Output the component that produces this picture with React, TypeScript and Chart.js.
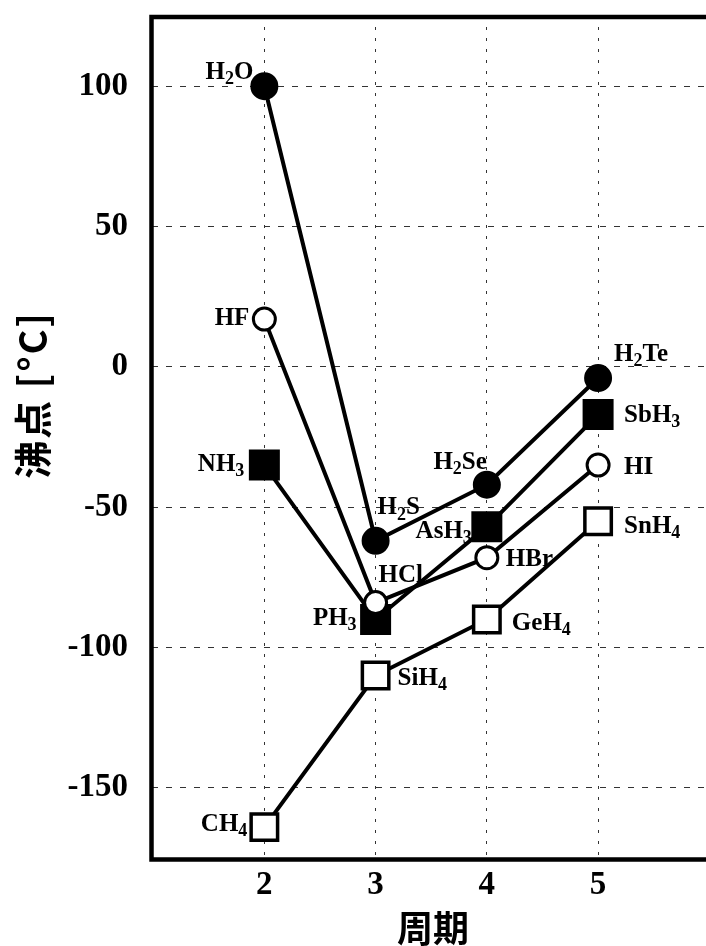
import React, { useEffect, useRef } from 'react';
import { Chart, registerables } from 'chart.js';

Chart.register(...registerables);

// ---- data ----
const PERIODS = [2, 3, 4, 5];
const X_TICKS = [2, 3, 4, 5];
const Y_TICKS = [-150, -100, -50, 0, 50, 100];

const GROUP17_NAMES = ['HF', 'HCl', 'HBr', 'HI'];
const GROUP17_BP = [17, -84, -68, -35];
const GROUP16_NAMES = ['H2O', 'H2S', 'H2Se', 'H2Te'];
const GROUP16_BP = [100, -62, -42, -4];
const GROUP15_NAMES = ['NH3', 'PH3', 'AsH3', 'SbH3'];
const GROUP15_BP = [-35, -90, -57, -17];
const GROUP14_NAMES = ['CH4', 'SiH4', 'GeH4', 'SnH4'];
const GROUP14_BP = [-164, -110, -90, -55];

const Y_TITLE = '沸点 [°C]';
const X_TITLE = '周期';

// ---- styles (label placement relative to marker) ----
type LabelPos = { align: 'left' | 'right'; dx: number; dy: number };
const POS17: LabelPos[] = [
  { align: 'right', dx: -15, dy: -1 },
  { align: 'left', dx: 3, dy: -27 },
  { align: 'left', dx: 19, dy: 2 },
  { align: 'left', dx: 26, dy: 2 },
];
const POS16: LabelPos[] = [
  { align: 'right', dx: -11, dy: -14 },
  { align: 'left', dx: 2, dy: -33 },
  { align: 'right', dx: 0, dy: -22 },
  { align: 'left', dx: 16, dy: -24 },
];
const POS15: LabelPos[] = [
  { align: 'right', dx: -20, dy: -1 },
  { align: 'right', dx: -19, dy: -1 },
  { align: 'right', dx: -15, dy: 5 },
  { align: 'left', dx: 26, dy: 1 },
];
const POS14: LabelPos[] = [
  { align: 'right', dx: -17, dy: -3 },
  { align: 'left', dx: 22, dy: 3 },
  { align: 'left', dx: 25, dy: 4 },
  { align: 'left', dx: 26, dy: 5 },
];

const SERIF = '"Liberation Serif", "Times New Roman", serif';
const CJK = '"Noto Sans CJK JP", "Noto Sans CJK SC", sans-serif';

type Group = {
  names: string[];
  values: number[];
  shape: 'circle' | 'rect';
  filled: boolean;
  radius: number;
  border: number;
  pos: LabelPos[];
};

// top-most first
const GROUPS: Group[] = [
  { names: GROUP17_NAMES, values: GROUP17_BP, shape: 'circle', filled: false, radius: 11, border: 3, pos: POS17 },
  { names: GROUP16_NAMES, values: GROUP16_BP, shape: 'circle', filled: true, radius: 13, border: 2, pos: POS16 },
  { names: GROUP15_NAMES, values: GROUP15_BP, shape: 'rect', filled: true, radius: 20.5, border: 2, pos: POS15 },
  { names: GROUP14_NAMES, values: GROUP14_BP, shape: 'rect', filled: false, radius: 18.7, border: 3.5, pos: POS14 },
];

function drawFormula(ctx: CanvasRenderingContext2D, text: string, x: number, y: number, align: 'left' | 'right', size: number) {
  const segs = text.split(/(\d+)/).filter((s) => s.length > 0);
  const mainFont = `bold ${size}px ${SERIF}`;
  const subFont = `bold ${Math.round(size * 0.7)}px ${SERIF}`;
  let total = 0;
  const widths: number[] = [];
  for (const s of segs) {
    ctx.font = /^\d+$/.test(s) ? subFont : mainFont;
    const w = ctx.measureText(s).width;
    widths.push(w);
    total += w;
  }
  let cx = align === 'right' ? x - total : x;
  ctx.textAlign = 'left';
  ctx.textBaseline = 'middle';
  ctx.fillStyle = '#000';
  segs.forEach((s, i) => {
    const isSub = /^\d+$/.test(s);
    ctx.font = isSub ? subFont : mainFont;
    ctx.fillText(s, cx, isSub ? y + size * 0.28 : y);
    cx += widths[i];
  });
}

export default function App() {
  const ref = useRef<HTMLCanvasElement | null>(null);

  useEffect(() => {
    if (!ref.current) return;
    const pointSets = GROUPS.map((g) => ({
      type: 'line' as const,
      data: PERIODS.map((p, i) => ({ x: p, y: g.values[i] })),
      showLine: false,
      pointStyle: g.shape,
      pointRadius: g.radius,
      pointBorderWidth: g.border,
      pointBorderColor: '#000',
      pointBackgroundColor: g.filled ? '#000' : '#fff',
      borderColor: '#000',
      backgroundColor: g.filled ? '#000' : '#fff',
    }));
    const lineSets = GROUPS.map((g) => ({
      type: 'line' as const,
      data: PERIODS.map((p, i) => ({ x: p, y: g.values[i] })),
      showLine: true,
      pointRadius: 0,
      borderColor: '#000',
      borderWidth: 4,
      tension: 0,
      fill: false,
    }));

    const overlay = {
      id: 'overlay',
      afterDatasetsDraw(chart: any) {
        const ctx: CanvasRenderingContext2D = chart.ctx;
        ctx.save();
        GROUPS.forEach((g, gi) => {
          const meta = chart.getDatasetMeta(gi);
          meta.data.forEach((el: any, j: number) => {
            const p = g.pos[j];
            drawFormula(ctx, g.names[j], el.x + p.dx, el.y + p.dy, p.align, 25);
          });
        });
        ctx.restore();
      },
      afterDraw(chart: any) {
        const ctx: CanvasRenderingContext2D = chart.ctx;
        const a = chart.chartArea;
        ctx.save();
        ctx.strokeStyle = '#000';
        ctx.lineWidth = 4.5;
        ctx.lineCap = 'square';
        ctx.beginPath();
        ctx.moveTo(a.right + 5, a.top + 1);
        ctx.lineTo(a.left - 0.5, a.top + 1);
        ctx.lineTo(a.left - 0.5, a.bottom + 1.5);
        ctx.lineTo(a.right + 5, a.bottom + 1.5);
        ctx.stroke();

        ctx.fillStyle = '#000';
        // y title
        ctx.save();
        ctx.translate(33, 395);
        ctx.rotate(-Math.PI / 2);
        ctx.font = `bold 38px ${CJK}`;
        (ctx as any).letterSpacing = '2px';
        ctx.textAlign = 'center';
        ctx.textBaseline = 'middle';
        ctx.fillText(Y_TITLE, 0, 0);
        ctx.restore();
        // x title
        ctx.font = `bold 36px ${CJK}`;
        ctx.textAlign = 'center';
        ctx.textBaseline = 'middle';
        ctx.fillText(X_TITLE, (a.left + a.right) / 2 + 4, 928);
        ctx.restore();
      },
    };

    const tickFont = { family: SERIF, size: 33, weight: 'bold' as const };

    const chart = new Chart(ref.current, {
      type: 'line',
      data: { datasets: [...pointSets, ...lineSets] as any },
      options: {
        animation: false,
        responsive: false,
        events: [],
        layout: { autoPadding: false, padding: { top: 16, right: 0, left: 0, bottom: 0 } },
        plugins: { legend: { display: false }, tooltip: { enabled: false } },
        scales: {
          x: {
            type: 'linear',
            min: 0.99,
            max: 5.97,
            afterBuildTicks: (s: any) => {
              s.ticks = X_TICKS.map((v) => ({ value: v }));
            },
            afterFit: (s: any) => {
              s.height = 88;
              s.paddingLeft = 0;
              s.paddingRight = 0;
            },
            grid: { color: '#333', lineWidth: 1, drawTicks: false },
            border: { display: false, dash: [3, 8] },
            ticks: { font: tickFont, color: '#000', padding: 8 },
          },
          y: {
            type: 'linear',
            min: -175,
            max: 125,
            afterBuildTicks: (s: any) => {
              s.ticks = Y_TICKS.map((v) => ({ value: v }));
            },
            afterFit: (s: any) => {
              s.width = 152;
              s.paddingTop = 0;
              s.paddingBottom = 0;
            },
            grid: { color: '#333', lineWidth: 1, drawTicks: false },
            border: { display: false, dash: [6, 8] },
            ticks: { font: tickFont, color: '#000', padding: 24 },
          },
        },
      } as any,
      plugins: [overlay],
    });
    return () => chart.destroy();
  }, []);

  return (
    <div style={{ position: 'fixed', left: 0, top: 0, width: 706, height: 946, background: '#fff' }}>
      <canvas ref={ref} width={706} height={946} style={{ display: 'block' }} />
    </div>
  );
}
